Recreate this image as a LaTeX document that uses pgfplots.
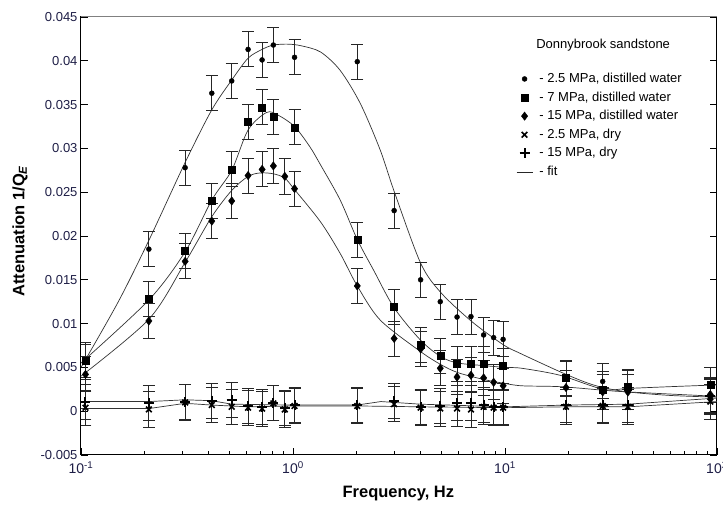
\documentclass[border=0pt]{standalone}
\usepackage{pgfplots}
\pgfplotsset{compat=1.18}
\usepackage{fontspec}
\setmainfont{Liberation Sans}
\definecolor{tickc}{RGB}{30,30,70}
\begin{document}
\begin{tikzpicture}
\begin{axis}[name=ax, at={(0,0)}, anchor=south west,
 scale only axis, width=636pt, height=438pt,
 xmode=log, xmin=0.1, xmax=100, ymin=-0.005, ymax=0.045,
 scaled y ticks=false,
 xtick={0.1,1,10,100},
 xticklabels={10\textsuperscript{-1},10\textsuperscript{0},10\textsuperscript{1},10\textsuperscript{2}},
 ytick={-0.005,0,0.005,0.01,0.015,0.02,0.025,0.03,0.035,0.04,0.045},
 yticklabels={-0.005,0,0.005,0.01,0.015,0.02,0.025,0.03,0.035,0.04,0.045},
 xtick pos=bottom, ytick pos=both, tick align=inside,
 major tick length=7pt, minor tick length=4pt,
 tick style={black, line width=0.8pt},
 axis line style={black, line width=1pt},
 ticklabel style={font=\fontsize{13}{15}\selectfont, text=tickc},
 xticklabel style={font=\fontsize{14}{16}\selectfont, yshift=-3pt},
 xlabel={Frequency, Hz},
 ylabel={Attenuation 1/Q\textsubscript{\textit{E}}},
 label style={font=\bfseries\fontsize{16.5}{19}\selectfont},
 xlabel style={at={(axis description cs:0.499,-0.089)}, anchor=center},
 ylabel style={at={(axis description cs:-0.096,0.511)}, anchor=center},
 legend style={draw=none, fill=none, at={(rel axis cs:0.684,0.875)}, anchor=north west,
   font=\fontsize{13}{15}\selectfont, row sep=4.6pt, column sep=4pt, inner sep=0pt,
   nodes={inner ysep=0.5pt, inner xsep=2.5pt, text height=10pt, text depth=3pt},
   cells={anchor=west}},
 legend image code/.code={\draw[mark repeat=2,mark phase=2,#1] plot coordinates {(0pt,0pt) (8pt,0pt) (16pt,0pt)};},
 error bars/error bar style={black!85, line width=0.9pt},
 error bars/error mark options={black!85, line width=0.9pt, mark size=6pt, rotate=90},
]
\addlegendimage{only marks, mark=*, mark size=2.5pt, black}
\addlegendentry{- 2.5 MPa, distilled water}
\addlegendimage{only marks, mark=square*, mark size=3.5pt, black}
\addlegendentry{- 7 MPa, distilled water}
\addlegendimage{only marks, mark=diamond*, mark size=4.2pt, black}
\addlegendentry{- 15 MPa, distilled water}
\addlegendimage{only marks, mark=x, mark size=4pt, line width=1.6pt, black}
\addlegendentry{- 2.5 MPa, dry}
\addlegendimage{only marks, mark=+, mark size=5pt, line width=2pt, black}
\addlegendentry{- 15 MPa, dry}
\addlegendimage{black!85, line width=0.7pt}
\addlegendentry{- fit}

% fits
\addplot[forget plot, smooth, black!80, line width=0.7pt] coordinates {
(0.1,0.0050) (0.15,0.0125) (0.209,0.0195) (0.31,0.0284) (0.414,0.0344) (0.514,0.0378)
(0.614,0.0403) (0.715,0.0413) (0.808,0.0418) (0.95,0.0419) (1.1,0.0417) (1.35,0.0410)
(1.67,0.0389) (2.08,0.0351) (2.58,0.0298) (3,0.0251) (4,0.0169) (5,0.0135) (7,0.0102)
(9.8,0.0076) (11.8,0.0066) (18.2,0.0045) (24,0.0033) (29,0.0027) (38,0.0022) (60,0.0018) (100,0.0016)};
\addplot[forget plot, smooth, black!80, line width=0.7pt] coordinates {
(0.1,0.0055) (0.209,0.0127) (0.31,0.0182) (0.414,0.0241) (0.514,0.0275) (0.614,0.0321)
(0.75,0.0341) (0.85,0.0338) (1.017,0.0325) (1.2,0.0302) (1.35,0.0281) (1.67,0.0241)
(2.01,0.0196) (2.4,0.0161) (3,0.0118) (4,0.0081) (5,0.0062) (6,0.0055) (8,0.0052)
(10,0.0050) (12,0.0049) (18.2,0.0041) (29,0.0025) (38,0.0026) (60,0.0028) (100,0.0030)};
\addplot[forget plot, smooth, black!80, line width=0.7pt] coordinates {
(0.1,0.0040) (0.209,0.0105) (0.31,0.0170) (0.414,0.0222) (0.514,0.0252) (0.614,0.0268)
(0.7,0.0272) (0.808,0.0271) (0.915,0.0266) (1.017,0.0253) (1.35,0.0216) (1.67,0.0180)
(2.01,0.0143) (2.58,0.0104) (4,0.0068) (5,0.0053) (6,0.0044) (8,0.0036) (9.8,0.0032)
(12,0.0029) (18.2,0.0028) (29,0.0024) (38,0.0022) (100,0.0017)};
\addplot[forget plot, black!80, line width=0.7pt] coordinates {
(0.1,0.0011) (0.209,0.0011) (0.31,0.0013) (0.414,0.0012) (0.514,0.0008) (1,0.0007)
(2,0.0007) (2.6,0.0011) (4,0.0008) (10,0.0005) (19.4,0.0007) (38,0.0008) (100,0.0015)};
\addplot[forget plot, black!80, line width=0.7pt] coordinates {
(0.1,0.0003) (0.209,0.0003) (0.31,0.0009) (0.414,0.0007) (0.614,0.0005) (1,0.0006)
(2,0.0006) (4,0.0005) (10,0.0004) (19.4,0.0005) (38,0.0005) (100,0.0011)};

% 2.5 MPa water
\addplot[forget plot, only marks, mark=*, mark size=2.5pt, black,
 error bars/.cd, y dir=both, y fixed=0.002] coordinates {
(0.105,0.0056) (0.209,0.0185) (0.31,0.0278) (0.414,0.0363) (0.514,0.0377) (0.614,0.0413)
(0.715,0.0401) (0.808,0.0418) (1.017,0.0404) (2.01,0.0399) (3,0.0229) (4,0.0150)
(4.95,0.0125) (5.94,0.01075) (6.91,0.0108) (7.93,0.0087) (8.84,0.0084) (9.8,0.0082)
(19.4,0.0037) (28.9,0.0034) (38,0.0027) (93,0.0016)};
% 7 MPa water
\addplot[forget plot, only marks, mark=square*, mark size=3.5pt, black,
 error bars/.cd, y dir=both, y fixed=0.002] coordinates {
(0.105,0.0058) (0.209,0.0128) (0.31,0.0183) (0.414,0.0240) (0.514,0.0276) (0.614,0.0330)
(0.715,0.0347) (0.808,0.0336) (1.017,0.0324) (2.01,0.0196) (3,0.0119) (4,0.0076)
(4.95,0.0063) (5.94,0.0054) (6.91,0.0054) (7.93,0.0054) (9.8,0.0052)
(19.4,0.0038) (28.9,0.0025) (38,0.0028) (93,0.0030)};
% 15 MPa water
\addplot[forget plot, only marks, mark=diamond*, mark size=4.2pt, black,
 error bars/.cd, y dir=both, y fixed=0.002] coordinates {
(0.105,0.0042) (0.209,0.0103) (0.31,0.0171) (0.414,0.0217) (0.514,0.0240) (0.614,0.0269)
(0.715,0.0276) (0.808,0.0280) (0.915,0.0268) (1.017,0.0254) (2.01,0.0143) (3,0.0083)
(4,0.0071) (4.95,0.0049) (5.94,0.0039) (6.91,0.0041) (7.93,0.0038) (8.84,0.0033)
(9.8,0.0029) (19.4,0.0027) (28.9,0.0022) (38,0.0022) (93,0.0019)};
% 2.5 MPa dry
\addplot[forget plot, only marks, mark=x, mark size=4pt, black, mark options={line width=1.6pt},
 error bars/.cd, y dir=both, y fixed=0.002] coordinates {
(0.105,0.0004) (0.209,0.0002) (0.31,0.0010) (0.414,0.0007) (0.514,0.0005) (0.614,0.0004)
(0.715,0.0003) (0.808,0.0009) (0.915,0.0002) (1.017,0.0006) (2.01,0.0006) (3,0.0008)
(4,0.0004) (4.95,0.0003) (5.94,0.0003) (6.91,0.0002) (7.93,0.0005) (8.84,0.0004) (9.8,0.0004)
(19.4,0.0005) (28.9,0.0006) (38,0.0005) (93,0.0011)};
% 15 MPa dry
\addplot[forget plot, only marks, mark=+, mark size=5pt, black, mark options={line width=2pt},
 error bars/.cd, y dir=both, y fixed=0.002] coordinates {
(0.105,0.0011) (0.209,0.0009) (0.31,0.0011) (0.414,0.0012) (0.514,0.0013) (0.614,0.0006)
(0.715,0.0005) (0.808,0.0009) (0.915,0.0004) (1.017,0.0007) (2.01,0.0007) (3,0.0012)
(4,0.0005) (4.95,0.0006) (5.94,0.0009) (6.91,0.0009) (7.93,0.0007) (8.84,0.0005) (9.8,0.0005)
(19.4,0.0007) (28.9,0.0007) (38,0.0007) (93,0.0017)};

\draw[gray, line width=1pt] (rel axis cs:0,1) -- (rel axis cs:1,1);
\node[font=\fontsize{13}{15}\selectfont, anchor=center] at (rel axis cs:0.821,0.936) {Donnybrook sandstone};
\end{axis}
\pgfresetboundingbox
\useasboundingbox (ax.south west) ++(-81pt,-51pt) rectangle ++(723pt,506pt);
\end{tikzpicture}
\end{document}
